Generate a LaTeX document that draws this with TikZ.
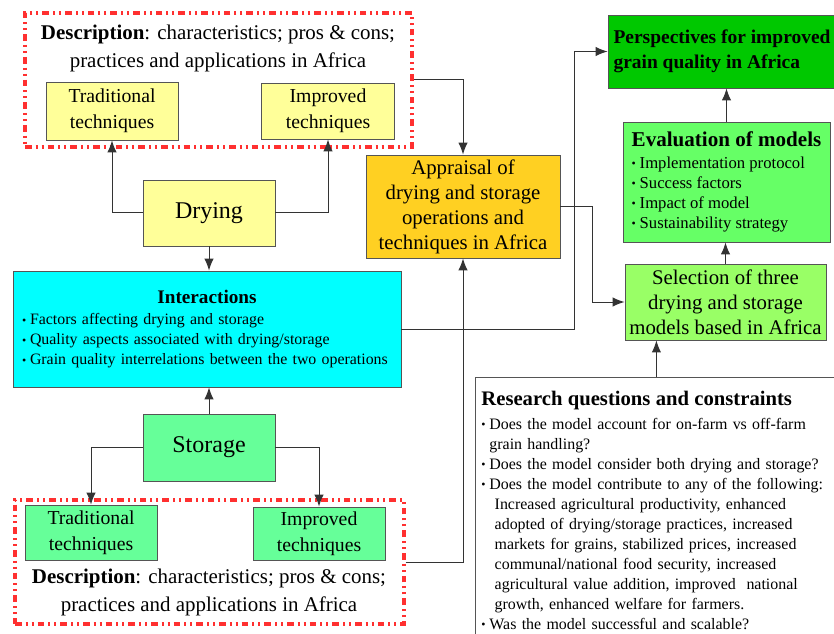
\documentclass[tikz,border=0pt]{standalone}
\usepackage{fontspec}
\setmainfont{Liberation Serif}
\usetikzlibrary{arrows.meta}
\definecolor{dryyellow}{HTML}{FFFF99}
\definecolor{storegreen}{HTML}{66FF99}
\definecolor{intercyan}{HTML}{00FFFF}
\definecolor{apprgold}{HTML}{FFD022}
\definecolor{perspgreen}{HTML}{00C800}
\definecolor{evalgreen}{HTML}{66FF66}
\definecolor{selgreen}{HTML}{99FF66}
\definecolor{boxgray}{HTML}{555555}
\definecolor{linegray}{HTML}{333333}
\definecolor{descred}{HTML}{FF3030}
\newcommand{\itm}{\makebox[6pt][l]{\raisebox{0.05ex}{\small\textbullet}}}
\begin{document}
\begin{tikzpicture}[x=0.75pt,y=-0.75pt,
	box/.style={draw=boxgray, line width=0.6pt, align=center, inner sep=2pt},
	sz/.style 2 args={minimum width=#1*0.75pt, minimum height=#2*0.75pt},
	desc/.style={draw=descred, line width=2.3pt, dash pattern=on 5pt off 3pt on 1.5pt off 3pt on 1.5pt off 3pt},
	link/.style={draw=linegray, line width=0.75pt, -{Latex[length=9pt,width=7pt]}}]
	\useasboundingbox (0,0) rectangle (834,634);

	\node[desc, sz={387}{134}] (descTop) at (218.5,80) {}; %drying description
	\node[align=center, font=\fontsize{15.7}{21}\selectfont] (descTopTxt) at (218,48) {\textbf{Description}: characteristics; pros \& cons;\\practices and applications in Africa};
	\node[box, fill=dryyellow, sz={132}{58}, font=\fontsize{14.8}{19.5}\selectfont] (tradTop) at (112,111) {Traditional\\techniques};
	\node[box, fill=dryyellow, sz={133}{56}, font=\fontsize{14.8}{19.5}\selectfont] (imprTop) at (328,111) {Improved\\techniques};
	\node[box, fill=dryyellow, sz={132}{66}, font=\fontsize{18}{20}\selectfont] (drying) at (209,213) {Drying};

	\node[box, fill=intercyan, sz={388}{116}, text width=277.5pt, align=left, font=\fontsize{11.9}{15}\selectfont] (inter) at (207,329) {{\centering\fontsize{14.4}{16}\selectfont\bfseries Interactions\par}\vspace{1pt}\itm Factors affecting drying and storage\\\itm Quality aspects associated with drying/storage\\\itm Grain quality interrelations between the two operations};

	\node[box, fill=storegreen, sz={132}{67}, font=\fontsize{18}{20}\selectfont] (storage) at (209,447.5) {Storage};
	\node[desc, sz={389}{124}] (descBot) at (209.5,562) {}; %storage description
	\node[box, fill=storegreen, sz={132}{55}, font=\fontsize{14.8}{19.5}\selectfont] (tradBot) at (91,532.5) {Traditional\\techniques};
	\node[box, fill=storegreen, sz={132}{53}, font=\fontsize{14.8}{19.5}\selectfont] (imprBot) at (319,533.5) {Improved\\techniques};
	\node[align=center, font=\fontsize{15.7}{21}\selectfont] (descBotTxt) at (209,592) {\textbf{Description}: characteristics; pros \& cons;\\practices and applications in Africa};

	\node[box, fill=apprgold, sz={194}{103}, font=\fontsize{15.6}{18.75}\selectfont] (apprl) at (463,206.5) {Appraisal of\\drying and storage\\operations and\\techniques in Africa};
	\node[box, fill=perspgreen, sz={228}{73}, align=left, font=\fontsize{14.6}{18.75}\selectfont\bfseries] (persp) at (722,51.5) {Perspectives for improved\\grain quality in Africa};
	\node[box, fill=evalgreen, sz={207}{120}, align=left, font=\fontsize{12.5}{15}\selectfont] (eval) at (726.5,182) {{\fontsize{15.8}{16}\selectfont\bfseries Evaluation of models}\\[1pt]\itm Implementation protocol\\\itm Success factors\\\itm Impact of model\\\itm Sustainability strategy};
	\node[box, fill=selgreen, sz={201}{76}, font=\fontsize{15.6}{18.75}\selectfont] (select) at (725.5,302) {Selection of three\\drying and storage\\models based in Africa};

	\node[box, anchor=north west, fill=white, text width=262.5pt, align=left, inner xsep=4.5pt, inner ysep=10pt, font=\fontsize{11.95}{15}\selectfont] (research) at (475,377) {{\fontsize{15.5}{16}\selectfont\bfseries Research questions and constraints\par}\vspace{3pt}\itm Does the model account for on-farm vs off-farm\\\hspace*{6pt}grain handling?\\\itm Does the model consider both drying and storage?\\\itm Does the model contribute to any of the following:\\\hspace*{6pt} Increased agricultural productivity, enhanced\\\hspace*{6pt} adopted of drying/storage practices, increased\\\hspace*{6pt} markets for grains, stabilized prices, increased\\\hspace*{6pt} communal/national food security, increased\\\hspace*{6pt} agricultural value addition, improved\ \ national\\\hspace*{6pt} growth, enhanced welfare for farmers.\\\itm Was the model successful and scalable?};

	\draw[link] (drying.west) -| (tradTop.south);
	\draw[link] (drying.east) -| (imprTop.south);
	\draw[link] (drying.south) -- (drying.south |- inter.north);
	\draw[link] (storage.north) -- (storage.north |- inter.south);
	\draw[link] (storage.west) -| (tradBot.north);
	\draw[link] (storage.east) -| (imprBot.north);
	\draw[link] (descTop.east) -| (apprl.north);
	\draw[link] (descBot.east) -| (apprl.south);
	\draw[link] (apprl.east) -- ++(32,0) |- (select.west);
	\draw[link] (inter.east) -- ++(173,0) |- (persp.west);
	\draw[link] (select.north) -- (select.north |- eval.south);
	\draw[link] (eval.north) -- (eval.north |- persp.south);
	\draw[link] (research.north) -- (research.north |- select.south);
\end{tikzpicture}
\end{document}
